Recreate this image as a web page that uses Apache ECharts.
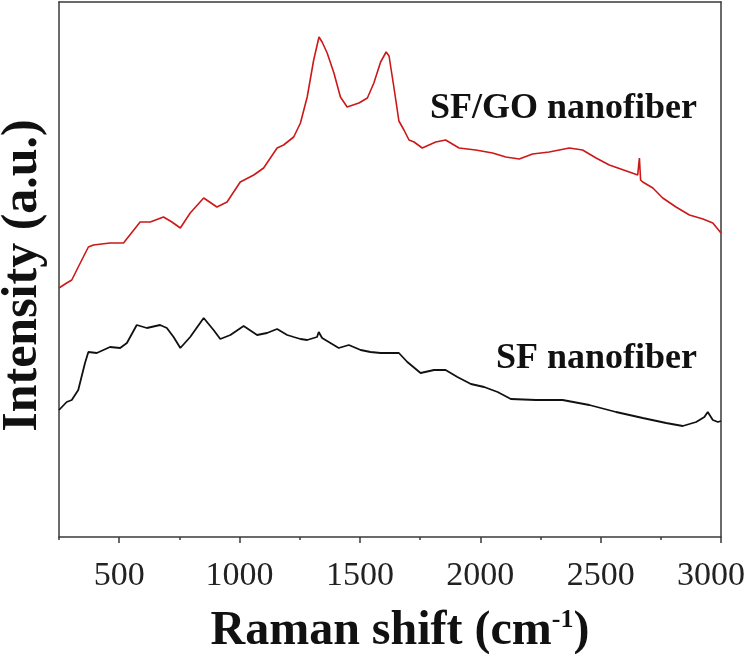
<!DOCTYPE html>
<html>
<head>
<meta charset="utf-8">
<script src="https://cdn.jsdelivr.net/npm/echarts@6/dist/echarts.min.js"></script>
<style>
html,body{margin:0;padding:0;background:#fff;}
#chart{width:750px;height:654px;}
</style>
</head>
<body>
<div id="chart"></div>
<script>
// Raman shift (cm-1) and intensity (a.u.)
const sfgoShift = [250,282,303,330,372,393,462,518,587,629,684,719,754,795,851,906,948,1003,1059,1100,1156,1183,1225,1253,1281,1308,1330,1343,1364,1392,1419,1447,1496,1531,1558,1586,1609,1621,1641,1662,1683,1704,1725,1759,1815,1856,1912,1981,2051,2106,2162,2217,2286,2370,2425,2481,2536,2619,2654,2661,2666,2675,2717,2758,2813,2869,2925,2966,3000];
const sfgoIntensity = [249,254,257,270,290,292,294,294,315,315,320,315,309,324,339,330,335,355,362,369,389,392,400,414,440,477,500,495,484,464,440,430,434,439,454,475,485,481,450,416,407,397,395,389,395,397,389,387,384,380,378,383,385,389,387,379,372,365,362,379,357,355,349,339,330,322,318,314,304];

const sfShift = [250,282,303,330,358,372,407,462,504,532,573,615,670,698,726,754,795,851,892,920,962,1017,1073,1114,1156,1198,1225,1253,1281,1308,1322,1329,1343,1412,1454,1503,1544,1586,1662,1697,1752,1808,1856,1905,1961,2016,2072,2127,2231,2342,2453,2564,2675,2772,2841,2897,2931,2945,2966,2987,3000];
const sfIntensity = [127,135,137,147,174,185,184,190,189,194,212,209,212,209,200,189,200,219,207,198,202,211,202,204,208,202,200,198,197,199,200,205,199,189,192,187,185,184,184,175,164,167,167,160,153,150,145,138,137,137,132,125,119,114,111,115,120,125,117,115,116];

const majorTicks = [500,1000,1500,2000,2500,3000];
const seriesNames = ['SF/GO nanofiber','SF nanofiber'];

const pair = (xs, ys) => xs.map((x, i) => [x, ys[i]]);

const chart = echarts.init(document.getElementById('chart'), null, {renderer: 'canvas'});
const axisLineStyle = {color: '#3a3a3a', width: 1.5};
const serif = '"Liberation Serif", "Times New Roman", serif';
const gridBox = {left: 59, right: 29, top: 2, bottom: 117, containLabel: false, outerBoundsMode: 'none'};
const labelFont = {fontFamily: serif, fontSize: 34, color: '#222'};

chart.setOption({
  animation: false,
  backgroundColor: '#fff',
  grid: [Object.assign({}, gridBox), Object.assign({}, gridBox)],
  xAxis: [
    {
      type: 'value', gridIndex: 0, position: 'bottom', min: 250, max: 3000,
      axisLine: {show: true, onZero: false, lineStyle: axisLineStyle},
      axisTick: {show: true, inside: false, length: 6, lineStyle: axisLineStyle, customValues: majorTicks},
      axisLabel: {show: true, customValues: majorTicks, margin: 22, fontFamily: serif, fontSize: 34, color: '#222',
        formatter: v => v === 3000 ? '{r|' + v + '}' : String(v),
        rich: {r: Object.assign({padding: [0, 20, 0, 0]}, labelFont)}},
      splitLine: {show: false},
      name: '{a|Raman shift (cm}{s|-1}{a|)}',
      nameLocation: 'middle', nameGap: 70,
      nameTextStyle: {
        padding: [0, 0, 0, 20],
        rich: {
          a: {fontFamily: serif, fontSize: 48, fontWeight: 'bold', color: '#111', lineHeight: 50},
          s: {fontFamily: serif, fontSize: 26, fontWeight: 'bold', color: '#111', verticalAlign: 'top', lineHeight: 50, padding: [0, 0, 22, 0]}
        }
      }
    },
    {
      type: 'value', gridIndex: 0, position: 'top', min: 250, max: 3000,
      axisLine: {show: true, onZero: false, lineStyle: axisLineStyle},
      axisTick: {show: false}, axisLabel: {show: false}, splitLine: {show: false}
    },
    {
      type: 'value', gridIndex: 1, position: 'bottom', min: 250, max: 3000, interval: 500,
      axisLine: {show: false, onZero: false},
      axisTick: {show: true, inside: false, length: 3, lineStyle: axisLineStyle},
      axisLabel: {show: false}, splitLine: {show: false}
    }
  ],
  yAxis: [
    {
      type: 'value', gridIndex: 0, position: 'left', min: 0, max: 535,
      axisLine: {show: true, onZero: false, lineStyle: axisLineStyle},
      axisTick: {show: false}, axisLabel: {show: false}, splitLine: {show: false},
      name: 'Intensity (a.u.)', nameLocation: 'middle', nameGap: 11,
      nameTextStyle: {fontFamily: serif, fontSize: 50, fontWeight: 'bold', color: '#111', padding: [0, 12, 0, 0]}
    },
    {
      type: 'value', gridIndex: 0, position: 'right', min: 0, max: 535,
      axisLine: {show: true, onZero: false, lineStyle: axisLineStyle},
      axisTick: {show: false}, axisLabel: {show: false}, splitLine: {show: false}
    },
    {
      type: 'value', gridIndex: 1, min: 0, max: 535, show: false
    }
  ],
  series: [
    {
      name: seriesNames[0], type: 'line', xAxisIndex: 0, yAxisIndex: 0,
      data: pair(sfgoShift, sfgoIntensity), showSymbol: false, symbol: 'none',
      lineStyle: {color: '#cc1818', width: 1.6}
    },
    {
      name: seriesNames[1], type: 'line', xAxisIndex: 0, yAxisIndex: 0,
      data: pair(sfShift, sfIntensity), showSymbol: false, symbol: 'none',
      lineStyle: {color: '#111', width: 1.8}
    }
  ],
  graphic: [
    {type: 'text', right: 53, top: 91, style: {text: seriesNames[0], fontFamily: serif, fontSize: 36, fontWeight: 'bold', fill: '#111'}},
    {type: 'text', right: 53, top: 341, style: {text: seriesNames[1], fontFamily: serif, fontSize: 36, fontWeight: 'bold', fill: '#111'}}
  ]
});
</script>
</body>
</html>
